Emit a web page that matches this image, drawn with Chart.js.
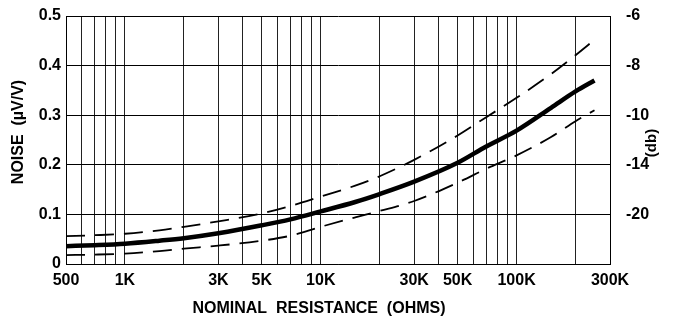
<!DOCTYPE html>
<html>
<head>
<meta charset="utf-8">
<script src="https://cdn.jsdelivr.net/npm/chart.js@4.4.0/dist/chart.umd.min.js"></script>
<style>
  html, body { margin: 0; padding: 0; background: #fff; }
  #wrap { width: 678px; height: 325px; position: relative; }
</style>
</head>
<body>
<div id="wrap"><canvas id="noiseChart"></canvas></div>
<script>
// Nominal resistance (ohms) where the curves were read
const resistance = [500, 700, 1000, 1500, 2000, 3000, 5000, 7000, 10000, 15000, 20000, 30000, 50000, 70000, 100000, 150000, 200000, 250000];
// Noise, uV/V
const typical = [0.036, 0.038, 0.041, 0.047, 0.052, 0.062, 0.078, 0.090, 0.106, 0.125, 0.141, 0.166, 0.204, 0.237, 0.269, 0.315, 0.348, 0.370];
const upper   = [0.056, 0.058, 0.061, 0.068, 0.075, 0.086, 0.102, 0.117, 0.136, 0.158, 0.177, 0.210, 0.259, 0.296, 0.335, 0.383, 0.421, 0.452];
const lower   = [0.018, 0.019, 0.021, 0.026, 0.031, 0.037, 0.047, 0.057, 0.075, 0.094, 0.107, 0.127, 0.164, 0.192, 0.219, 0.256, 0.288, 0.310];

// Grid lines on the x axis and which of them carry a label
const xGrid = [500, 600, 700, 800, 900, 1000, 2000, 3000, 4000, 5000, 6000, 7000, 8000, 9000, 10000,
               20000, 30000, 40000, 50000, 60000, 70000, 80000, 90000, 100000, 200000, 300000];
const xLabels = { 500: '500', 1000: '1K', 3000: '3K', 5000: '5K', 10000: '10K', 30000: '30K', 50000: '50K', 100000: '100K', 300000: '300K' };
// Left ticks 0..0.5 and the matching db labels on the right
const yTicks = [0, 0.1, 0.2, 0.3, 0.4, 0.5];
const dbLabels = ['', '-20', '-14', '-10', '-8', '-6'];

const xTitle = 'NOMINAL  RESISTANCE  (OHMS)';
const yTitle = 'NOISE  (\u00B5V/V)';
const y2Title = '(db)';

const FONT = "'Liberation Sans', Arial, Helvetica, sans-serif";
Chart.defaults.font.family = FONT;
Chart.defaults.font.size = 16;
Chart.defaults.font.weight = 'bold';
Chart.defaults.color = '#000';

const pts = arr => resistance.map((r, i) => ({ x: r, y: arr[i] }));

// axis titles drawn by hand so they sit where the original has them
const axisTitles = {
    id: 'axisTitles',
    afterDraw(chart) {
        const { ctx, chartArea: a } = chart;
        ctx.save();
        ctx.fillStyle = '#000';
        ctx.font = 'bold 16px ' + FONT;
        ctx.textAlign = 'center';
        ctx.textBaseline = 'middle';
        ctx.fillText(xTitle, a.left + 253, a.bottom + 45);

        ctx.translate(19, a.top + 116);
        ctx.rotate(-Math.PI / 2);
        ctx.fillText(yTitle, 0, 0);
        ctx.restore();

        ctx.save();
        ctx.fillStyle = '#000';
        ctx.font = 'bold 15px ' + FONT;
        ctx.textAlign = 'center';
        ctx.textBaseline = 'middle';
        ctx.translate(a.right + 42, a.top + 127);
        ctx.rotate(-Math.PI / 2);
        ctx.fillText(y2Title, 0, 0);
        ctx.restore();
    }
};

new Chart(document.getElementById('noiseChart'), {
    type: 'line',
    data: {
        datasets: [
            {
                label: 'Typical',
                data: pts(typical),
                borderColor: '#000',
                borderWidth: 4.5,
                pointRadius: 0,
                cubicInterpolationMode: 'monotone'
            },
            {
                label: 'Upper',
                data: pts(upper),
                borderColor: '#000',
                borderWidth: 1.8,
                borderDash: [19, 10],
                pointRadius: 0,
                cubicInterpolationMode: 'monotone'
            },
            {
                label: 'Lower',
                data: pts(lower),
                borderColor: '#000',
                borderWidth: 1.8,
                borderDash: [19, 10],
                pointRadius: 0,
                cubicInterpolationMode: 'monotone'
            }
        ]
    },
    options: {
        responsive: true,
        maintainAspectRatio: false,
        animation: false,
        layout: { padding: { top: 16 } },
        plugins: { legend: { display: false }, tooltip: { enabled: false } },
        scales: {
            x: {
                type: 'logarithmic',
                min: 500,
                max: 300000,
                afterBuildTicks: s => { s.ticks = xGrid.map(v => ({ value: v })); },
                afterFit: s => { s.height = 61; },
                ticks: {
                    autoSkip: false,
                    maxRotation: 0,
                    padding: 7,
                    callback: v => xLabels[v] || ''
                },
                grid: { color: '#222', lineWidth: 1, drawTicks: false },
                border: { color: '#000', width: 1 }
            },
            y: {
                position: 'left',
                min: 0,
                max: 0.5,
                afterBuildTicks: s => { s.ticks = yTicks.map(v => ({ value: v })); },
                afterFit: s => { s.width = 66; },
                ticks: {
                    padding: 5,
                    callback: v => (v === 0 ? '0' : v.toFixed(1))
                },
                grid: { color: '#000', lineWidth: 1, drawTicks: false },
                border: { color: '#000', width: 1 }
            },
            y2: {
                position: 'right',
                min: 0,
                max: 0.5,
                afterBuildTicks: s => { s.ticks = yTicks.map(v => ({ value: v })); },
                afterFit: s => { s.width = 68; },
                ticks: {
                    padding: 5,
                    callback: (v, i) => dbLabels[i]
                },
                grid: { drawOnChartArea: false, drawTicks: true, tickLength: 11, tickColor: 'rgba(0,0,0,0)' },
                border: { color: '#000', width: 1 }
            }
        }
    },
    plugins: [axisTitles]
});
</script>
</body>
</html>
